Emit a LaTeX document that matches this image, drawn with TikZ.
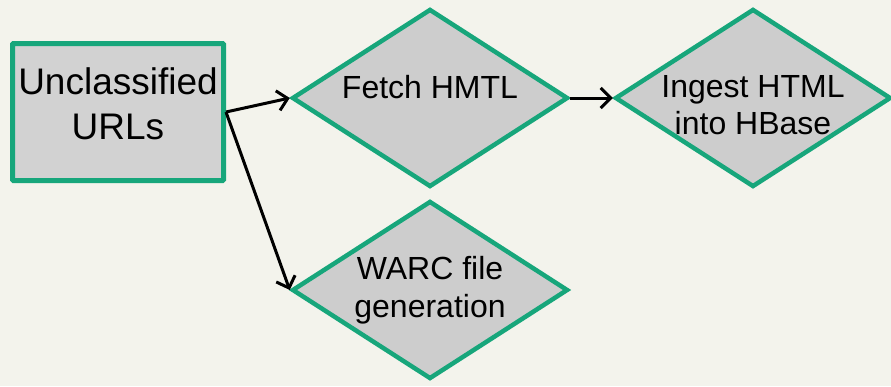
\documentclass[tikz,border=0pt]{standalone}
\usepackage{fontspec}
\setmainfont{Liberation Sans}
\usetikzlibrary{shapes.geometric,arrows.meta}

\definecolor{pagebg}{HTML}{F3F3EC}
\definecolor{boxgreen}{HTML}{17A67B}
\definecolor{boxgray}{HTML}{D2D2D2}
\definecolor{stepgray}{HTML}{CDCDCD}

\begin{document}
\begin{tikzpicture}[x=1pt,y=-1pt]
				\tikzstyle{source}=[draw=boxgreen, line width=5pt, fill=boxgray, rectangle, rounded corners=1pt,
					minimum width=211pt, minimum height=137pt, inner sep=0pt, align=center, text depth=16pt,
					font=\fontsize{37}{45}\selectfont]
				\tikzstyle{stage}=[draw=boxgreen, line width=4.5pt, fill=stepgray, diamond, shape aspect=1.55,
					inner sep=-30pt, minimum width=276pt, minimum height=178pt, align=center,
					font=\fontsize{32}{37.5}\selectfont]
				\tikzstyle{flow}=[draw=black, line width=3pt, -{Straight Barb[length=10pt,width=20pt,line width=3pt]}]
				\fill [pagebg] (0,0) rectangle (891,386);
				\useasboundingbox (0,0) rectangle (891,386);
				\node [source] (urls) at (118,112) {Unclassified\\URLs};
				\node [stage] (fetch) at (430,98) {\raisebox{0pt}[0pt][0pt]{Fetch HMTL}};
				\node [stage, text height=74pt] (ingest) at (753,98) {Ingest HTML\\into HBase};
				\node [stage] (warc) at (430,290) {WARC file\\generation};
				\draw [flow] (urls.east) -- (fetch.west);
				\draw [flow] (fetch.east) -- (ingest.west);
				\draw [flow] (urls.east) -- (warc.west);
			\end{tikzpicture}
\end{document}
